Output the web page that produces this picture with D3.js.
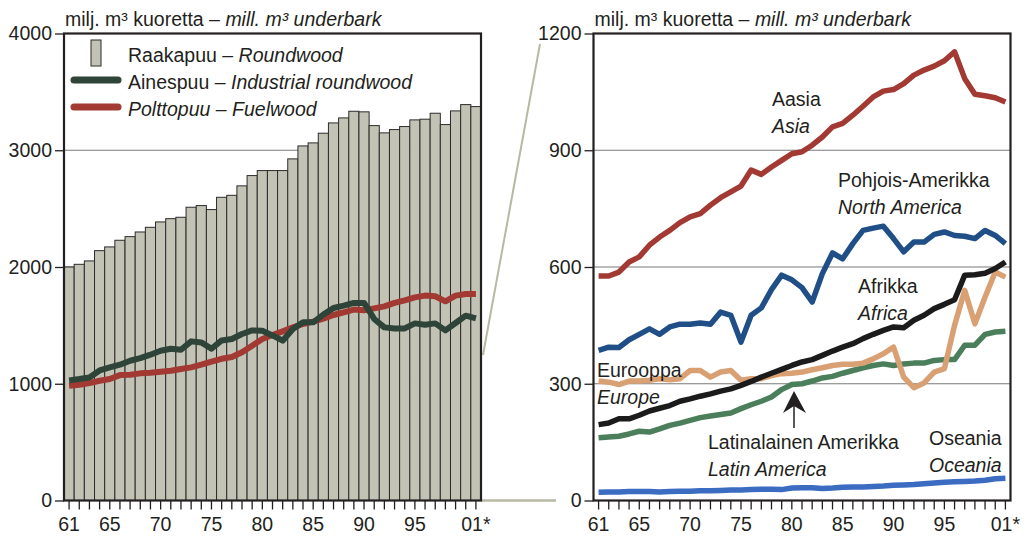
<!DOCTYPE html>
<html lang="fi">
<head>
<meta charset="UTF-8" />
<title>Raakapuu</title>
<script src="https://cdn.jsdelivr.net/npm/d3@7"></script>
<style>
  body { margin: 0; background: #fff; }
  svg { display: block; font-family: "Liberation Sans", Arial, sans-serif; }
</style>
</head>
<body>
<div id="chart"></div>
<script>
// vuodet 1961-2001
const years = d3.range(1961, 2002);
const xLabels = { 1961: "61", 1965: "65", 1970: "70", 1975: "75", 1980: "80",
                  1985: "85", 1990: "90", 1995: "95", 2001: "01*" };

// vasen kuva: maailma, milj. m3
const roundwood = [2000, 2023, 2052, 2140, 2172, 2229, 2260, 2300, 2340, 2386,
  2414, 2426, 2512, 2526, 2492, 2597, 2614, 2695, 2783, 2826,
  2826, 2826, 2926, 3037, 3063, 3146, 3234, 3277, 3334, 3329,
  3211, 3149, 3177, 3203, 3260, 3266, 3317, 3220, 3337, 3391, 3374];
const industrial = [1029, 1040, 1054, 1114, 1140, 1163, 1197, 1220, 1249, 1283,
  1300, 1291, 1363, 1354, 1300, 1371, 1383, 1426, 1457, 1454,
  1414, 1369, 1469, 1526, 1526, 1592, 1649, 1669, 1692, 1692,
  1555, 1483, 1474, 1474, 1517, 1506, 1517, 1457, 1520, 1583, 1560];
const fuelwood = [983, 992, 1006, 1026, 1040, 1074, 1077, 1089, 1094, 1103,
  1111, 1126, 1140, 1163, 1189, 1214, 1229, 1269, 1326, 1383,
  1417, 1449, 1483, 1512, 1532, 1557, 1589, 1612, 1635, 1629,
  1646, 1663, 1692, 1714, 1740, 1755, 1749, 1706, 1755, 1769, 1769];

// oikea kuva: maanosat
const asia = [577, 577, 587, 613, 626, 656, 677, 694, 714, 729,
  737, 759, 778, 793, 808, 849, 838, 857, 874, 891,
  896, 913, 934, 960, 969, 990, 1013, 1037, 1052, 1056,
  1071, 1093, 1106, 1116, 1130, 1153, 1084, 1044, 1040, 1035, 1024];
const northAmerica = [386, 394, 393, 413, 427, 441, 427, 446, 453, 453,
  456, 453, 484, 476, 407, 476, 495, 542, 579, 567,
  547, 510, 583, 636, 621, 660, 694, 700, 705, 673,
  639, 664, 664, 684, 690, 681, 679, 673, 694, 681, 660];
const africa = [195, 199, 210, 210, 219, 230, 237, 244, 255, 261,
  268, 274, 281, 287, 296, 306, 317, 327, 337, 347,
  356, 362, 373, 384, 394, 403, 416, 427, 437, 446,
  444, 463, 476, 493, 504, 516, 579, 580, 584, 596, 613];
const europe = [307, 304, 298, 307, 307, 309, 313, 310, 313, 334,
  334, 317, 330, 334, 309, 313, 313, 321, 326, 327,
  330, 336, 341, 347, 350, 350, 353, 364, 377, 394,
  317, 290, 302, 330, 339, 450, 540, 454, 523, 587, 574];
const latinAmerica = [161, 163, 165, 171, 178, 176, 184, 193, 199, 206,
  213, 217, 221, 225, 236, 246, 255, 266, 285, 298,
  300, 307, 315, 319, 327, 334, 341, 347, 351, 347,
  351, 353, 353, 360, 362, 362, 399, 399, 427, 433, 435];
const oceania = [21, 22, 22, 23, 23, 23, 22, 23, 24, 24,
  25, 25, 26, 27, 27, 28, 29, 29, 28, 32,
  33, 33, 31, 32, 34, 35, 35, 36, 37, 39,
  40, 41, 43, 45, 47, 48, 49, 50, 52, 56, 57];

const W = 1024, H = 540;
const plotTop = 33.5, plotBottom = 500.5, pw = 417;
const fs = "19.5px";

const svg = d3.select("#chart").append("svg")
  .attr("width", W).attr("height", H);

// yhdysviivat paneelien välissä
svg.append("line").attr("x1", 483).attr("y1", 355).attr("x2", 540).attr("y2", 44)
  .attr("stroke", "#b7b9a3").attr("stroke-width", 2);
svg.append("line").attr("x1", 481).attr("y1", plotBottom).attr("x2", 556).attr("y2", plotBottom)
  .attr("stroke", "#b7b9a3").attr("stroke-width", 2.5);

function panel(left, ymax, yticks) {
  const g = svg.append("g");
  const x = d3.scaleBand().domain(years).range([left, left + pw]).padding(0);
  const y = d3.scaleLinear().domain([0, ymax]).range([plotBottom, plotTop]);

  // ruudukko
  g.append("g").selectAll("line")
    .data(yticks.filter(v => v > 0 && v < ymax))
    .enter().append("line")
    .attr("x1", left).attr("x2", left + pw)
    .attr("y1", d => y(d)).attr("y2", d => y(d))
    .attr("stroke", "#7a7a7a").attr("stroke-width", 1.2);

  // otsikko
  const t = g.append("text").attr("x", left + 1).attr("y", 26).attr("font-size", fs).attr("fill", "#231f20");
  t.append("tspan").text("milj. m³ kuoretta – ");
  t.append("tspan").attr("font-style", "italic").text("mill. m³ underbark");

  return { g, x, y, left };
}

function axes(p, yticks) {
  const ya = p.g.append("g").attr("transform", `translate(${p.left},0)`)
    .call(d3.axisLeft(p.y).tickValues(yticks).tickSize(9).tickPadding(3).tickFormat(d3.format("d")));
  const xa = p.g.append("g").attr("transform", `translate(0,${plotBottom})`)
    .call(d3.axisBottom(p.x).tickSize(9).tickPadding(8).tickFormat(d => xLabels[d] || ""));
  [ya, xa].forEach(a => {
    a.select(".domain").remove();
    a.selectAll(".tick line").attr("stroke", "#231f20").attr("stroke-width", 1.3);
    a.selectAll("text").attr("font-size", fs).attr("fill", "#231f20")
      .attr("font-family", "Liberation Sans, Arial, sans-serif");
  });
  p.g.append("rect").attr("x", p.left).attr("y", plotTop).attr("width", pw).attr("height", plotBottom - plotTop)
    .attr("fill", "none").attr("stroke", "#231f20").attr("stroke-width", 2.2);
}

function drawLine(p, values, color, width) {
  const line = d3.line()
    .x((d, i) => p.x(years[i]) + p.x.bandwidth() / 2)
    .y(d => p.y(d));
  p.g.append("path").datum(values)
    .attr("d", line)
    .attr("fill", "none").attr("stroke", color).attr("stroke-width", width)
    .attr("stroke-linejoin", "round");
}

// ---- vasen paneeli
const leftTicks = [0, 1000, 2000, 3000, 4000];
const p1 = panel(64, 4000, leftTicks);
p1.g.append("g").selectAll("rect")
  .data(roundwood).enter().append("rect")
  .attr("x", (d, i) => p1.x(years[i]))
  .attr("y", d => p1.y(d))
  .attr("width", p1.x.bandwidth())
  .attr("height", d => plotBottom - p1.y(d))
  .attr("fill", "#c3c3b5").attr("stroke", "#2b2b2b").attr("stroke-width", 1);

drawLine(p1, fuelwood, "#a23a33", 6);
drawLine(p1, industrial, "#2e4439", 6);
axes(p1, leftTicks);

// selite
const lg = p1.g.append("g").attr("font-size", fs).attr("fill", "#231f20");
lg.append("rect").attr("x", 91).attr("y", 40).attr("width", 10).attr("height", 26)
  .attr("fill", "#c3c3b5").attr("stroke", "#2b2b2b").attr("stroke-width", 1);
lg.append("line").attr("x1", 74).attr("x2", 118).attr("y1", 80).attr("y2", 80)
  .attr("stroke", "#2e4439").attr("stroke-width", 7).attr("stroke-linecap", "round");
lg.append("line").attr("x1", 74).attr("x2", 118).attr("y1", 107).attr("y2", 107)
  .attr("stroke", "#a23a33").attr("stroke-width", 7).attr("stroke-linecap", "round");
const l1 = lg.append("text").attr("x", 128).attr("y", 62);
l1.append("tspan").text("Raakapuu – ");
l1.append("tspan").attr("font-style", "italic").text("Roundwood");
const l2 = lg.append("text").attr("x", 128).attr("y", 89);
l2.append("tspan").text("Ainespuu – ");
l2.append("tspan").attr("font-style", "italic").text("Industrial roundwood");
lg.append("text").attr("x", 128).attr("y", 116).attr("font-style", "italic").text("Polttopuu – Fuelwood");

// ---- oikea paneeli
const rightTicks = [0, 300, 600, 900, 1200];
const p2 = panel(593.5, 1200, rightTicks);
drawLine(p2, oceania, "#3b6cc2", 5.5);
drawLine(p2, latinAmerica, "#4b7f5b", 5.5);
drawLine(p2, europe, "#d9a074", 5.5);
drawLine(p2, africa, "#1b1b1b", 5.5);
drawLine(p2, northAmerica, "#1f4f86", 5.5);
drawLine(p2, asia, "#a23a33", 5.5);
axes(p2, rightTicks);

const labels = [
  { x: 772, y: 106, fi: "Aasia", en: "Asia" },
  { x: 838, y: 187, fi: "Pohjois-Amerikka", en: "North America" },
  { x: 858, y: 293, fi: "Afrikka", en: "Africa" },
  { x: 597, y: 377, fi: "Eurooppa", en: "Europe" },
  { x: 708, y: 449, fi: "Latinalainen Amerikka", en: "Latin America" },
  { x: 929, y: 445, fi: "Oseania", en: "Oceania" }
];
const lab = p2.g.append("g").attr("font-size", fs).attr("fill", "#231f20");
labels.forEach(d => {
  lab.append("text").attr("x", d.x).attr("y", d.y).text(d.fi);
  lab.append("text").attr("x", d.x).attr("y", d.y + 27).attr("font-style", "italic").text(d.en);
});

// nuoli
lab.append("line").attr("x1", 794).attr("x2", 794).attr("y1", 428).attr("y2", 400)
  .attr("stroke", "#231f20").attr("stroke-width", 1.5);
lab.append("path").attr("d", "M794,391 L783,413 L794,406 L806,413 Z").attr("fill", "#231f20");
</script>
</body>
</html>
